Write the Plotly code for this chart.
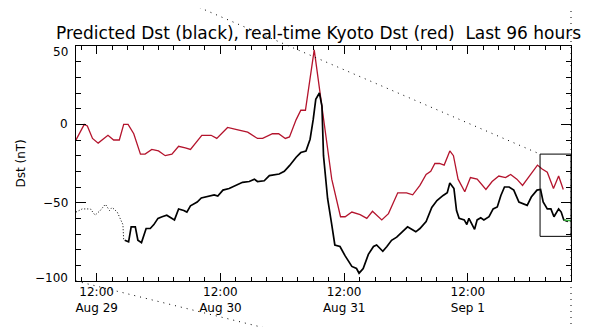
import pandas as pd
import plotly.graph_objects as go

# ---------------- data (hours after 2022-08-29 08:00) ----------------
start = pd.Timestamp("2022-08-29 08:00")

red_hours = [0, 1.6, 2.2, 3.2, 4.3, 5.4, 6.2, 7.3, 8.4, 9.25, 10.1, 11.2, 12.5, 13.4, 14.7,
             16.0, 17.3, 18.6, 19.9, 21.2, 22.2, 24.4, 26.2, 27.3, 29.4, 31.4, 33.3, 35.2,
             36.2, 38.1, 39.3, 40.6, 41.4, 42.7, 43.6, 44.5, 46.2, 49.6, 51.3, 52.2, 53.5,
             55.1, 56.4, 57.5, 59.3, 60.6, 62.4, 64.1, 65.3, 66.7, 67.9, 68.8, 69.6, 70.5,
             71.4, 72.5, 73.2, 74.1, 75.4, 76.5, 77.8, 79.5, 80.7, 82.0, 83.3, 84.3, 85.5,
             86.6, 87.9, 89.5, 90.4, 91.4, 92.6, 93.6, 94.5]
red_dst = [-10, 0, -1, -9, -12, -9, -7, -10, -10, 0, 0, -6, -19, -19, -16,
           -17, -20, -19, -14, -15, -16, -7, -7, -9, -2, -3.6, -5, -9,
           -9, -6, -6, -9, -8, 3, 9, 9, 47.5, -35, -59, -59, -56,
           -57.6, -60, -55.5, -61, -57, -43.7, -43.7, -45, -39, -32, -30, -25, -25,
           -26, -17, -20, -35, -43, -34, -35, -41.6, -36.5, -33, -34, -32, -35,
           -39, -33, -26, -28.5, -30.6, -41, -33, -41.6]

pred_dot_hours = [0, 1.2, 2.8, 3.7, 4.7, 5.7, 6.5, 7.0, 8.0, 8.6, 9.1, 9.25, 9.45]
pred_dot_dst = [-56, -54, -54, -58, -55, -51, -55, -53, -56, -61, -64, -74, -74]

pred_hours = [9.45, 10.2, 10.7, 11.5, 12.0, 12.7, 13.6, 14.4, 15.1, 15.9, 16.7, 17.6, 19.1,
              19.9, 20.9, 21.5, 22.2, 23.5, 24.3, 25.9, 26.8, 27.5, 28.5, 29.7, 31.0, 32.3,
              33.6, 34.6, 35.2, 36.5, 37.5, 39.4, 40.4, 41.4, 42.7, 43.6, 44.6, 45.4, 46.0,
              46.5, 47.2, 47.7, 48.0, 48.8, 49.6, 50.2, 51.2, 52.2, 53.5, 54.4, 54.9, 55.7,
              56.7, 57.7, 58.3, 59.5, 60.3, 61.2, 62.2, 63.2, 64.3, 65.1, 65.9, 66.7, 67.9,
              69.0, 70.0, 71.2, 72.0, 72.5, 73.3, 73.8, 74.3, 75.3, 75.8, 76.2, 76.7, 77.3,
              77.8, 78.5, 79.1, 80.1, 80.9, 81.7, 82.4, 83.1, 84.0, 84.9, 85.9, 86.9, 87.5,
              88.3, 89.4, 90.1, 90.6, 91.4, 92.1, 92.7, 93.6, 94.1, 94.6, 95.4]
pred_dst = [-74, -75, -65.5, -65.5, -74, -75.5, -66.5, -66.5, -64, -60, -59, -58, -61,
            -54, -55, -56, -52, -49.6, -47, -45.8, -45, -45.8, -42, -41, -39, -37,
            -36.5, -35, -36.5, -36, -32.7, -31.7, -30, -26.4, -21, -18, -17, -9.5, 3,
            16, 20, 11.6, -20, -47.5, -64, -77, -78, -84, -90.7, -92, -95, -92,
            -83, -78, -77, -81, -78, -74, -72, -68.6, -65.4, -67, -68.6, -66.5, -62,
            -53, -48.6, -45.4, -43.7, -37.4, -41, -55, -60, -61, -64, -60, -63, -67,
            -61, -59.7, -61, -59, -54, -52.7, -45.4, -40, -40, -42, -49.6, -50.6, -51.7,
            -46.4, -42, -41.6, -49.6, -54, -54, -59, -54, -56, -61, -62]

green_hours = [94.6, 96.0]
green_dst = [-61, -61.5]

box_hours = [90, 96]
box_dst = [-71.5, -19]

tick_hours = [4, 28, 52, 76]
tick_text = ["12:00<br>Aug 29", "12:00<br>Aug 30", "12:00<br>Aug 31", "12:00<br>Sep 1"]

y_tick_vals = [-100, -50, 0, 50]
y_tick_text = ["−100", "−50", "0", "50"]


def to_t(hours):
    return [start + pd.Timedelta(hours=h) for h in hours]


FONT = "DejaVu Sans"

fig = go.Figure()
fig.add_trace(go.Scatter(x=to_t(red_hours), y=red_dst, mode="lines",
                         line=dict(color="#b4142d", width=1.3), hoverinfo="skip"))
fig.add_trace(go.Scatter(x=to_t(pred_dot_hours), y=pred_dot_dst, mode="lines",
                         line=dict(color="black", width=1, dash="1px,2px"), hoverinfo="skip"))
fig.add_trace(go.Scatter(x=to_t(pred_hours), y=pred_dst, mode="lines",
                         line=dict(color="black", width=1.7), hoverinfo="skip"))
fig.add_trace(go.Scatter(x=to_t(green_hours), y=green_dst, mode="lines",
                         line=dict(color="#3cb043", width=1.5), hoverinfo="skip"))

bx = to_t(box_hours)
fig.add_shape(type="rect", xref="x", yref="y", x0=bx[0], x1=bx[1], y0=box_dst[0], y1=box_dst[1],
              line=dict(color="black", width=1), fillcolor="rgba(0,0,0,0)")

# dotted connector lines (paper coordinates)
dot = dict(color="black", width=1, dash="1px,5px")
fig.add_shape(type="line", xref="paper", yref="paper", x0=0.216, y0=1.194, x1=0.9374, y1=0.540,
              line=dot, layer="above")
fig.add_shape(type="line", xref="paper", yref="paper", x0=0.0, y0=0.0, x1=0.42, y1=-0.22,
              line=dot, layer="above")
fig.add_shape(type="line", xref="paper", yref="paper", x0=1.0, y0=1.2, x1=1.0, y1=-0.2,
              line=dot, layer="above")

xr = to_t([0, 96])
fig.update_xaxes(
    type="date", range=[xr[0], xr[1]],
    tickmode="array", tickvals=to_t(tick_hours), ticktext=tick_text,
    ticks="inside", ticklen=8, tickcolor="black", tickwidth=1,
    minor=dict(tickmode="linear", tick0=start + pd.Timedelta(hours=1), dtick=3 * 3600 * 1000,
               ticks="inside", ticklen=4, tickcolor="black", tickwidth=1),
    showline=True, linecolor="black", linewidth=1, mirror="ticks",
    showgrid=False, zeroline=False,
    tickfont=dict(family=FONT, size=12, color="black"),
)
fig.update_yaxes(
    range=[-100, 50], tickmode="array", tickvals=y_tick_vals, showticklabels=False,
    ticks="inside", ticklen=10, tickcolor="black", tickwidth=1,
    minor=dict(tickmode="linear", tick0=0, dtick=10, ticks="inside", ticklen=5,
               tickcolor="black", tickwidth=1),
    showline=True, linecolor="black", linewidth=1, mirror="ticks",
    showgrid=False, zeroline=False,
)

# y tick labels (end labels nudged inward, as in the reference)
for v, t in zip(y_tick_vals, y_tick_text):
    shift = -6 if v == 50 else (3 if v == -100 else 0)
    fig.add_annotation(text=t, xref="paper", yref="y", x=-0.012, y=v, yshift=shift,
                       xanchor="right", yanchor="middle", showarrow=False,
                       font=dict(family=FONT, size=12, color="black"))

fig.add_annotation(text="Predicted Dst (black), real-time Kyoto Dst (red)  Last 96 hours",
                   xref="paper", yref="paper", x=0.489, y=1.055, xanchor="center", yanchor="middle",
                   showarrow=False, font=dict(family=FONT, size=17, color="black"))
fig.add_annotation(text="Dst (nT)", xref="paper", yref="paper", x=-0.113, y=0.5,
                   xanchor="center", yanchor="middle", textangle=-90, showarrow=False,
                   font=dict(family=FONT, size=12, color="black"))

# page body has an 8px margin: figure is 589x319 so the plot lands where the reference has it
fig.update_layout(width=589, height=319, autosize=False,
                  margin=dict(l=68, r=26, t=38, b=44),
                  paper_bgcolor="white", plot_bgcolor="white", showlegend=False)

fig.write_html("out.html")
